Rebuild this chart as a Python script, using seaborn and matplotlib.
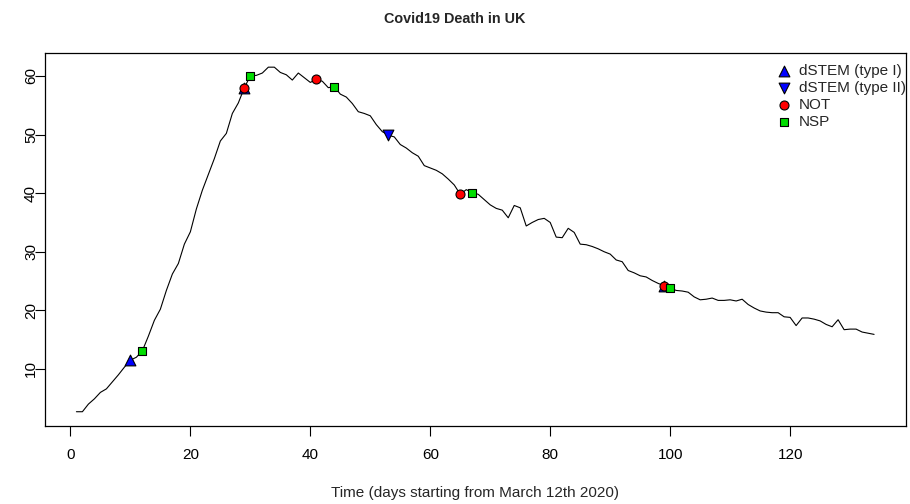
import numpy as np
import pandas as pd
import matplotlib
matplotlib.use("Agg")
import matplotlib.pyplot as plt
import seaborn as sns

days = list(range(1, 135))
deaths = [
    2.7, 2.7, 4.0, 4.9, 6.0, 6.6, 7.8, 9.0, 10.3, 11.5,
    12.0, 13.1, 15.6, 18.3, 20.2, 23.4, 26.2, 28.0, 31.3, 33.4,
    37.3, 40.5, 43.2, 45.9, 48.9, 50.2, 53.6, 55.4, 58.0, 60.0,
    60.1, 60.5, 61.5, 61.5, 60.6, 60.2, 59.3, 60.5, 59.7, 58.9,
    59.4, 59.1, 58.0, 58.2, 56.9, 56.4, 55.3, 53.9, 53.6, 53.2,
    51.7, 50.5, 49.9, 49.6, 48.3, 47.7, 46.9, 46.3, 44.7, 44.3,
    43.9, 43.3, 42.4, 41.4, 39.8, 40.6, 40.1, 39.8, 38.9, 38.0,
    37.4, 37.1, 35.8, 37.9, 37.5, 34.4, 35.0, 35.5, 35.7, 35.0,
    32.5, 32.4, 34.0, 33.3, 31.3, 31.2, 30.9, 30.5, 30.0, 29.6,
    28.6, 28.3, 26.8, 26.4, 25.9, 25.7, 25.1, 24.6, 24.2, 23.8,
    23.4, 23.3, 23.1, 22.3, 21.8, 21.9, 22.1, 21.7, 21.7, 21.8,
    21.6, 21.9, 21.0, 20.4, 19.9, 19.7, 19.6, 19.6, 18.9, 18.8,
    17.4, 18.7, 18.7, 18.5, 18.2, 17.6, 17.2, 18.4, 16.7, 16.8,
    16.8, 16.3, 16.1, 15.9,
]

dstem1_days = [10, 29, 99]
dstem2_days = [53]
not_days = [29, 41, 65, 99]
nsp_days = [12, 30, 44, 67, 100]

x_ticks = [0, 20, 40, 60, 80, 100, 120]
y_ticks = [10, 20, 30, 40, 50, 60]

sns.set_style("ticks")
plt.rcParams['font.family'] = ['Liberation Sans', 'DejaVu Sans']

FS = 11

fig = plt.figure(figsize=(9.1, 5.04), dpi=100)
ax = fig.add_axes([44.5 / 910, (504 - 425.5) / 504, (906 - 44.5) / 910, (425.5 - 53.4) / 504])

df = pd.DataFrame({"day": days, "deaths": deaths})
sns.lineplot(data=df, x="day", y="deaths", color="black", linewidth=0.8, ax=ax)

def pts(ds):
    return pd.DataFrame({"day": ds, "deaths": [deaths[d - 1] for d in ds]})

sns.scatterplot(data=pts(dstem1_days), x="day", y="deaths", marker="^", s=60,
                color="#0000ff", edgecolor="black", linewidth=0.8, ax=ax, zorder=3,
                label="dSTEM (type I)")
sns.scatterplot(data=pts(dstem2_days), x="day", y="deaths", marker="v", s=60,
                color="#0000ff", edgecolor="black", linewidth=0.8, ax=ax, zorder=3,
                label="dSTEM (type II)")
sns.scatterplot(data=pts(not_days), x="day", y="deaths", marker="o", s=42,
                color="#ff0000", edgecolor="black", linewidth=0.8, ax=ax, zorder=4,
                label="NOT")
sns.scatterplot(data=pts(nsp_days), x="day", y="deaths", marker="s", s=34,
                color="#00dd00", edgecolor="black", linewidth=0.8, ax=ax, zorder=5,
                label="NSP")

ax.set_xlim(-4.32, 139.32)
ax.set_ylim(0.35, 63.85)
ax.set_xticks(x_ticks)
ax.set_yticks(y_ticks)
ax.tick_params(axis="both", direction="out", length=7, width=0.8, labelsize=FS,
               color="black", labelcolor="black")
ax.tick_params(axis="x", pad=9.5)
ax.tick_params(axis="y", pad=-2.4)
plt.setp(ax.get_yticklabels(), rotation=90, va="center")
for s in ax.spines.values():
    s.set_visible(True)
    s.set_color("black")
    s.set_linewidth(0.9)

ax.set_xlabel("Time (days starting from March 12th 2020)", fontsize=FS, labelpad=17)
ax.set_ylabel("")
fig.suptitle("Covid19 Death in UK", fontsize=10.4, fontweight="bold", y=0.976)

leg = ax.legend(loc="upper right", bbox_to_anchor=(906 / 910, (504 - 64) / 504),
                bbox_transform=fig.transFigure, frameon=False,
                fontsize=FS, handletextpad=0.45, labelspacing=0.2,
                borderpad=0, borderaxespad=0, handlelength=1.0)

fig.savefig("out.png", dpi=100)
